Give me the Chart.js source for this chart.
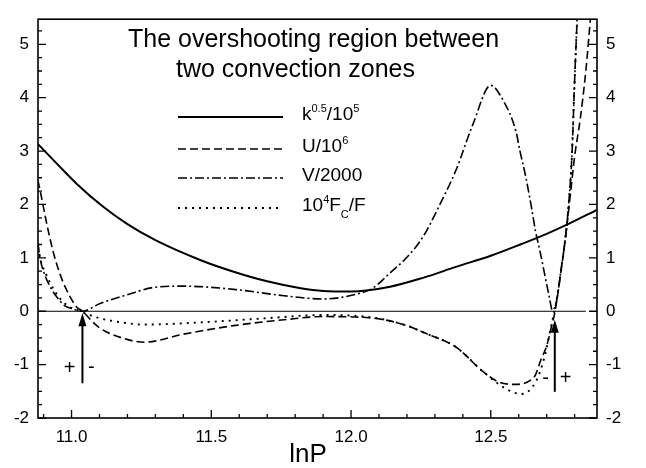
<!DOCTYPE html>
<html><head><meta charset="utf-8">
<script src="https://cdn.jsdelivr.net/npm/chart.js@4.4.1/dist/chart.umd.min.js"></script>
<style>html,body{margin:0;padding:0;background:#fff}canvas{display:block}</style>
</head><body>
<canvas id="c" width="646" height="468"></canvas>
<script>
const FONT = '"Liberation Sans", Arial, Helvetica, sans-serif';

// axis ranges and tick labels
const xRange = [10.88, 12.88];
const yRange = [-2, 5.47];
const xTicks = [11.0, 11.5, 12.0, 12.5];
const yTicks = [-2, -1, 0, 1, 2, 3, 4, 5];

// text
const titleLines = ['The overshooting region between', 'two convection zones'];
const xTitle = 'lnP';

// k^0.5/10^5 (solid)
const kLnP = [10.88,10.95,11.02,11.11,11.2,11.3,11.46,11.58,11.7,11.82,11.9,12.0,12.14,12.26,12.375,12.5,12.61,12.7,12.78,12.88];
const kVal = [3.13,2.75,2.38,1.97,1.63,1.33,0.96,0.74,0.56,0.43,0.38,0.37,0.46,0.63,0.83,1.04,1.26,1.45,1.64,1.90];

// U/10^6 (dashed)
const uLnP = [10.88,10.89,10.905,10.917,10.935,10.952,10.97,10.994,11.018,11.04,11.07,11.1,11.18,11.26,11.4,11.58,11.76,11.9,12.08,12.2,12.26,12.375,12.47,12.53,12.59,12.64,12.66,12.68,12.70,12.717,12.73,12.75,12.77,12.785,12.80,12.82,12.84,12.86];
const uVal = [2.45,2.2,1.8,1.5,1.1,0.8,0.54,0.28,0.08,0.0,-0.17,-0.31,-0.5,-0.58,-0.43,-0.27,-0.16,-0.10,-0.13,-0.27,-0.40,-0.67,-1.12,-1.33,-1.37,-1.30,-1.19,-0.9,-0.65,-0.29,0.0,0.7,1.5,2.2,2.9,3.6,4.5,5.7];

// V/2000 (dash-dot)
const vLnP = [10.88,10.887,10.905,10.93,10.95,10.976,11.0,11.04,11.1,11.2,11.3,11.4,11.58,11.76,11.9,12.02,12.08,12.14,12.2,12.257,12.317,12.376,12.436,12.5,12.543,12.59,12.604,12.625,12.646,12.66,12.675,12.71,12.72,12.735,12.75,12.77,12.78,12.79,12.80,12.81];
const vVal = [1.27,1.0,0.67,0.40,0.25,0.10,0.05,0.0,0.14,0.31,0.45,0.47,0.41,0.29,0.23,0.32,0.44,0.72,1.01,1.39,1.99,2.65,3.5,4.23,3.96,3.37,3.01,2.52,1.93,1.5,1.15,0.25,0.02,0.19,0.73,1.51,2.1,2.89,4.33,5.6];

// 10^4 Fc/F (dotted)
const fLnP = [10.88,10.89,10.91,10.936,10.96,10.985,11.03,11.1,11.18,11.26,11.46,11.7,11.9,12.08,12.2,12.26,12.375,12.47,12.55,12.61,12.66,12.69,12.72,12.735,12.75,12.77,12.78,12.79,12.80,12.81];
const fVal = [1.2,0.95,0.68,0.41,0.23,0.11,0.0,-0.13,-0.21,-0.25,-0.21,-0.13,-0.07,-0.12,-0.27,-0.40,-0.67,-1.12,-1.44,-1.55,-1.33,-0.9,-0.18,0.19,0.73,1.51,2.1,2.89,4.33,5.6];

// zero reference line
const zeroLnP = [10.88, 12.84];
const zeroVal = [0, 0];

// legend labels (rich text parts)
const legendLabels = [
  [{t:'k'},{t:'0.5',sup:1},{t:'/10'},{t:'5',sup:1}],
  [{t:'U/10'},{t:'6',sup:1}],
  [{t:'V/2000'}],
  [{t:'10'},{t:'4',sup:1},{t:'F'},{t:'C',sub:1},{t:'/F'}]
];

const pts = (xs, ys) => xs.map((x, i) => ({x, y: ys[i]}));

const base = {pointRadius:0, pointHoverRadius:0, fill:false, borderColor:'#000', cubicInterpolationMode:'monotone', showLine:true};
const datasets = [
  Object.assign({}, base, {label:'k', data:pts(kLnP,kVal), borderWidth:2, borderDash:[]}),
  Object.assign({}, base, {label:'U', data:pts(uLnP,uVal), borderWidth:1.6, borderDash:[8,4]}),
  Object.assign({}, base, {label:'V', data:pts(vLnP,vVal), borderWidth:1.6, borderDash:[9,3,2,3]}),
  Object.assign({}, base, {label:'F', data:pts(fLnP,fVal), borderWidth:1.9, borderDash:[2,5]}),
  Object.assign({}, base, {label:'zero', data:pts(zeroLnP,zeroVal), borderWidth:1.2, borderDash:[], cubicInterpolationMode:'default', tension:0})
];

function drawRich(ctx, x, y, parts, size) {
  const small = Math.round(size * 0.56);
  let cx = x;
  ctx.textAlign = 'left';
  ctx.textBaseline = 'alphabetic';
  for (const p of parts) {
    let yy = y;
    if (p.sup) { ctx.font = small + 'px ' + FONT; yy = y - 8; }
    else if (p.sub) { ctx.font = small + 'px ' + FONT; yy = y + 7; }
    else ctx.font = size + 'px ' + FONT;
    ctx.fillText(p.t, cx, yy);
    cx += ctx.measureText(p.t).width;
  }
}

const decor = {
  id: 'decor',
  afterDraw(chart) {
    const {ctx, chartArea: ca, scales: {x, y}} = chart;
    ctx.save();
    ctx.strokeStyle = '#000'; ctx.fillStyle = '#000'; ctx.setLineDash([]); ctx.lineCap = 'butt';
    // frame
    ctx.lineWidth = 1.6;
    ctx.strokeRect(ca.left, ca.top, ca.right - ca.left, ca.bottom - ca.top);
    // ticks (inward)
    ctx.lineWidth = 1.3;
    ctx.beginPath();
    for (let i = Math.ceil(x.min * 10 - 1e-6); i <= Math.floor(x.max * 10 + 1e-6); i++) {
      const px = x.getPixelForValue(i / 10);
      const L = (i % 5 === 0) ? 8 : 4;
      ctx.moveTo(px, ca.bottom); ctx.lineTo(px, ca.bottom - L);
    }
    for (let i = Math.ceil(y.min * 4 - 1e-6); i <= Math.floor(y.max * 4 + 1e-6); i++) {
      const py = y.getPixelForValue(i / 4);
      const L = (i % 4 === 0) ? 8 : 4;
      ctx.moveTo(ca.left, py); ctx.lineTo(ca.left + L, py);
      ctx.moveTo(ca.right, py); ctx.lineTo(ca.right - L, py);
    }
    ctx.stroke();

    // title
    ctx.font = '25px ' + FONT;
    ctx.textAlign = 'left'; ctx.textBaseline = 'alphabetic';
    ctx.fillText(titleLines[0], 128, 47);
    ctx.fillText(titleLines[1], 176, 77);

    // legend
    const rowY = [117, 149, 178, 208];
    legendLabels.forEach((parts, i) => {
      const ds = chart.data.datasets[i];
      ctx.lineWidth = ds.borderWidth;
      ctx.setLineDash(ds.borderDash);
      ctx.beginPath(); ctx.moveTo(178, rowY[i]); ctx.lineTo(283, rowY[i]); ctx.stroke();
      ctx.setLineDash([]);
      drawRich(ctx, 302, rowY[i] + 3, parts, 19);
    });

    // arrows
    const arrow = (xv, y0, y1) => {
      const px = x.getPixelForValue(xv), pb = y.getPixelForValue(y0), pt = y.getPixelForValue(y1);
      ctx.lineWidth = 2;
      ctx.beginPath(); ctx.moveTo(px, pb); ctx.lineTo(px, pt + 10); ctx.stroke();
      ctx.beginPath(); ctx.moveTo(px, pt); ctx.lineTo(px - 4, pt + 13); ctx.lineTo(px + 4, pt + 13); ctx.closePath(); ctx.fill();
    };
    arrow(11.039, -1.35, -0.04);
    arrow(12.729, -1.51, -0.16);

    // signs
    ctx.font = '20px ' + FONT; ctx.textAlign = 'center'; ctx.textBaseline = 'middle';
    ctx.fillText('+', x.getPixelForValue(10.993), y.getPixelForValue(-1.08));
    ctx.fillText('-', x.getPixelForValue(11.071), y.getPixelForValue(-1.05));
    ctx.fillText('-', x.getPixelForValue(12.696), y.getPixelForValue(-1.26));
    ctx.fillText('+', x.getPixelForValue(12.768), y.getPixelForValue(-1.26));

    // x title
    ctx.font = '26px ' + FONT; ctx.textAlign = 'center'; ctx.textBaseline = 'alphabetic';
    ctx.fillText(xTitle, 308, 462);
    ctx.restore();
  }
};

const tickFont = {family: FONT, size: 17};
new Chart(document.getElementById('c'), {
  type: 'scatter',
  data: {datasets},
  plugins: [decor],
  options: {
    responsive: false,
    animation: false,
    devicePixelRatio: 1,
    layout: {padding: {top: 2, left: 0, right: 0, bottom: 0}},
    plugins: {legend: {display: false}, tooltip: {enabled: false}, title: {display: false}},
    scales: {
      x: {
        type: 'linear', min: xRange[0], max: xRange[1],
        grid: {display: false, drawTicks: false}, border: {display: false},
        ticks: {font: tickFont, color: '#000', padding: 9, maxRotation: 0, autoSkip: false, callback: v => Number(v).toFixed(1)},
        afterBuildTicks: s => { s.ticks = xTicks.map(v => ({value: v})); },
        afterFit: s => { s.height = 50; }
      },
      y: {
        type: 'linear', position: 'left', min: yRange[0], max: yRange[1],
        grid: {display: false, drawTicks: false}, border: {display: false},
        ticks: {font: tickFont, color: '#000', padding: 9, callback: v => String(v)},
        afterBuildTicks: s => { s.ticks = yTicks.map(v => ({value: v})); },
        afterFit: s => { s.width = 38; }
      },
      y2: {
        type: 'linear', position: 'right', min: yRange[0], max: yRange[1],
        grid: {display: false, drawTicks: false}, border: {display: false},
        ticks: {font: tickFont, color: '#000', padding: 9, callback: v => String(v)},
        afterBuildTicks: s => { s.ticks = yTicks.map(v => ({value: v})); },
        afterFit: s => { s.width = 49; }
      }
    }
  }
});
</script>
</body></html>
